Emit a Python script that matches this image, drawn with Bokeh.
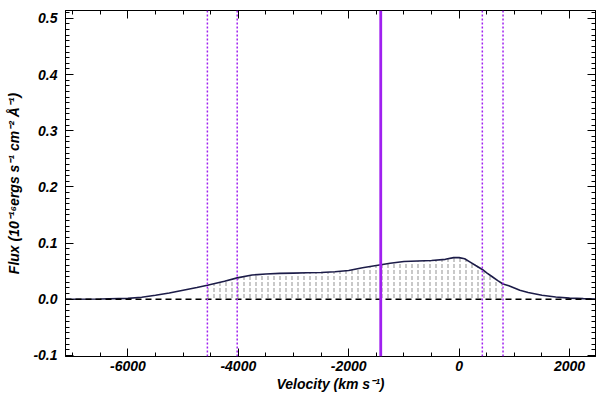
import numpy as np
from bokeh.plotting import figure
from bokeh.models import (Range1d, LinearAxis, SingleIntervalTicker, PrintfTickFormatter,
                          Span, ColumnDataSource)
from bokeh.embed import file_html
from bokeh.resources import INLINE

# ---- data ----
velocity = [-7130, -6500, -6000, -5750, -5500, -5250, -5000, -4750, -4560, -4250,
            -4020, -3750, -3500, -3250, -3000, -2750, -2500, -2250, -2000, -1750,
            -1500, -1250, -1000, -750, -500, -250, -100, 0, 100, 200, 300, 420,
            500, 600, 700, 795, 900, 1000, 1100, 1250, 1500, 1750, 2000, 2250, 2470]
flux = [0.0000, 0.0003, 0.0015, 0.0035, 0.0070, 0.0110, 0.0160, 0.0210, 0.0250, 0.0320,
        0.0380, 0.0430, 0.0450, 0.0460, 0.0465, 0.0470, 0.0475, 0.0490, 0.0510, 0.0560,
        0.0600, 0.0640, 0.0670, 0.0680, 0.0690, 0.0710, 0.0740, 0.0740, 0.0720, 0.0660,
        0.0600, 0.0530, 0.0470, 0.0400, 0.0330, 0.0270, 0.0240, 0.0200, 0.0160, 0.0120,
        0.0070, 0.0040, 0.0020, 0.0010, 0.0005]

solid_marks = [-1420]
dotted_marks = [-4560, -4020, 420, 795]
region = [-4560, 795]

x_ticks_major = 2000
y_ticks_major = 0.1

# ---- figure ----
p = figure(width=598, height=400, output_backend="svg", toolbar_location=None,
           x_range=Range1d(-7130, 2470), y_range=Range1d(-0.102, 0.514),
           min_border_left=65, min_border_right=3, min_border_top=10, min_border_bottom=44)
p.xgrid.visible = False
p.ygrid.visible = False
p.outline_line_color = "black"
p.outline_line_width = 1
p.background_fill_color = "white"
p.border_fill_color = "white"

FONT = "Liberation Sans"

def style_axis(ax, label_size="14px"):
    ax.axis_line_color = "black"
    ax.major_tick_in = 8
    ax.major_tick_out = 0
    ax.minor_tick_in = 4
    ax.minor_tick_out = 0
    ax.major_tick_line_color = "black"
    ax.minor_tick_line_color = "black"
    ax.major_label_text_font = FONT
    ax.major_label_text_font_style = "bold italic"
    ax.major_label_text_font_size = label_size
    ax.major_label_text_color = "black"
    ax.axis_label_text_font = FONT
    ax.axis_label_text_font_style = "bold italic"
    ax.axis_label_text_font_size = "14px"
    ax.axis_label_text_color = "black"

xt = SingleIntervalTicker(interval=x_ticks_major, num_minor_ticks=4)
yt = SingleIntervalTicker(interval=y_ticks_major, num_minor_ticks=10)

p.xaxis.ticker = xt
p.yaxis.ticker = yt
p.xaxis.formatter = PrintfTickFormatter(format="%d")
p.yaxis.formatter = PrintfTickFormatter(format="%.1f")
style_axis(p.xaxis[0])
style_axis(p.yaxis[0])
p.xaxis.axis_label = "Velocity (km s\u207b\u00b9)"
p.yaxis.axis_label = "Flux (10\u207b\u00b9\u2076ergs s\u207b\u00b9 cm\u207b\u00b2 \u00c5\u207b\u00b9)"
p.xaxis.major_label_standoff = 4
p.xaxis.axis_label_standoff = 2
p.yaxis.major_label_standoff = 8
p.yaxis.axis_label_standoff = 8

top_ax = LinearAxis(ticker=SingleIntervalTicker(interval=x_ticks_major, num_minor_ticks=4))
style_axis(top_ax, "0px")
top_ax.major_label_standoff = 0
top_ax.major_label_text_alpha = 0
p.add_layout(top_ax, "above")
right_ax = LinearAxis(ticker=SingleIntervalTicker(interval=y_ticks_major, num_minor_ticks=10))
style_axis(right_ax, "0px")
right_ax.major_label_standoff = 0
right_ax.major_label_text_alpha = 0
p.add_layout(right_ax, "right")

# hatched integration region under the curve
v_arr = np.array(velocity)
f_arr = np.array(flux)
mask = (v_arr >= region[0]) & (v_arr <= region[1])
hsrc = ColumnDataSource(dict(x=v_arr[mask], y1=np.zeros(mask.sum()), y2=f_arr[mask]))
p.varea(x="x", y1="y1", y2="y2", source=hsrc, fill_alpha=0,
        hatch_pattern=":", hatch_color="#a4a4a4", hatch_scale=6, hatch_weight=1.2)

# zero line
p.add_layout(Span(location=0, dimension="width", line_color="black",
                  line_dash="6 4", line_width=1.5))

# vertical marker lines
for v in dotted_marks:
    p.add_layout(Span(location=v, dimension="height", line_color="#a020f0",
                      line_dash="2 2", line_width=1.5))
for v in solid_marks:
    p.add_layout(Span(location=v, dimension="height", line_color="#a020f0",
                      line_width=2.8))

# profile
p.line(velocity, flux, line_color="#1c1c48", line_width=1.6)

open("out.html", "w").write(file_html(p, INLINE))
